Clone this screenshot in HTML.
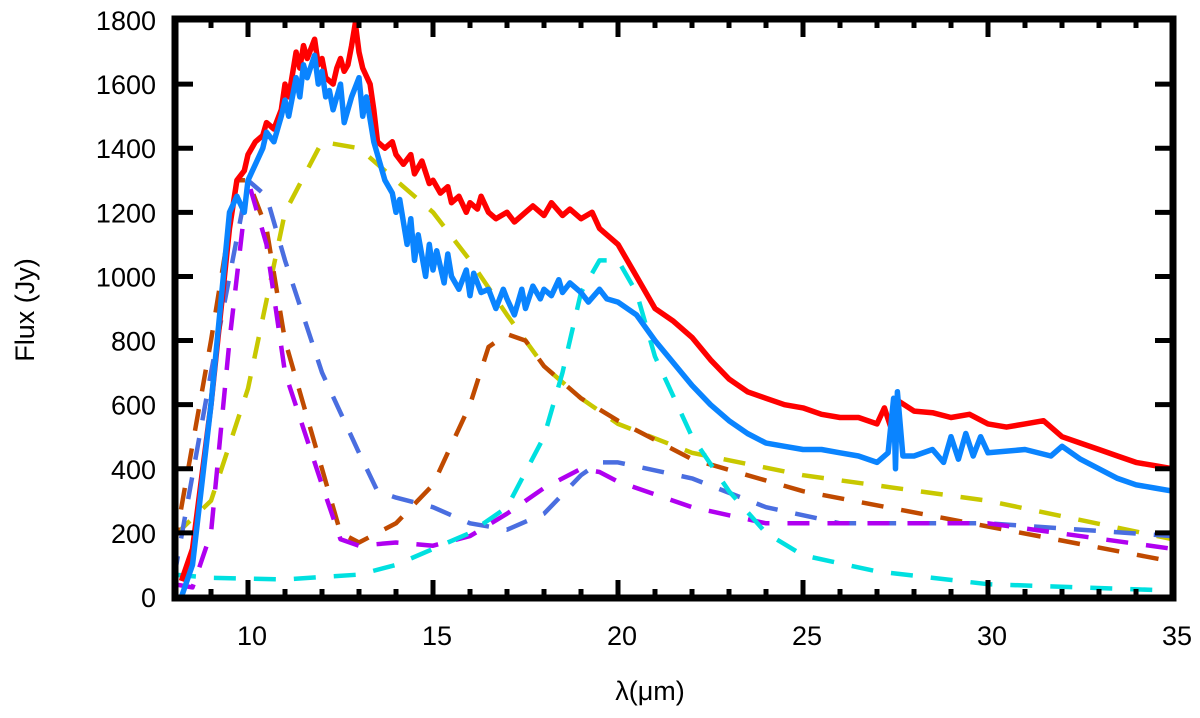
<!DOCTYPE html>
<html><head><meta charset="utf-8"><style>
body{margin:0;background:#fff}
svg{display:block;font-family:"Liberation Sans",sans-serif}
</style></head><body>
<svg id="chart" width="1200" height="718">
<g id="series"></g>
<g id="axes"></g>
<text x="650" y="700" font-size="27" text-anchor="middle">λ(μm)</text>
<text transform="translate(34,310) rotate(-90)" font-size="27" text-anchor="middle">Flux (Jy)</text>
</svg>
<script>
const xTicks=[10,15,20,25,30,35];
const yTicks=[0,200,400,600,800,1000,1200,1400,1600,1800];
const redX=[8.2,8.5,9,9.5,9.7,9.9,10,10.2,10.4,10.5,10.7,10.9,11,11.1,11.3,11.4,11.5,11.6,11.8,11.9,12,12.1,12.3,12.4,12.5,12.6,12.7,12.8,12.9,13,13.1,13.3,13.4,13.5,13.7,13.9,14,14.2,14.4,14.5,14.7,14.9,15,15.2,15.4,15.5,15.7,15.9,16,16.2,16.3,16.5,16.7,17,17.2,17.5,17.7,18,18.2,18.5,18.7,19,19.3,19.5,20,20.5,21,21.5,22,22.5,23,23.5,24,24.5,25,25.5,26,26.5,27,27.2,27.4,27.6,28,28.5,29,29.5,30,30.5,31,31.5,32,32.5,33,33.5,34,34.5,35];
const redY=[50,150,600,1150,1300,1330,1380,1420,1440,1480,1460,1520,1600,1560,1700,1650,1720,1680,1740,1660,1680,1620,1600,1650,1680,1640,1660,1720,1790,1700,1650,1600,1520,1420,1400,1420,1380,1350,1380,1320,1360,1290,1300,1260,1280,1230,1250,1200,1230,1210,1250,1200,1180,1200,1170,1200,1220,1190,1230,1190,1210,1180,1200,1150,1100,1000,900,860,810,740,680,640,620,600,590,570,560,560,540,590,520,610,580,575,560,570,540,530,540,550,500,480,460,440,420,410,400];
const blueX=[8.2,8.5,9,9.5,9.7,9.9,10,10.2,10.4,10.5,10.7,10.9,11,11.1,11.3,11.4,11.5,11.6,11.8,11.9,12,12.1,12.2,12.3,12.5,12.6,12.8,13,13.1,13.2,13.4,13.5,13.7,13.9,14,14.1,14.3,14.4,14.5,14.6,14.8,14.9,15,15.1,15.3,15.4,15.5,15.7,15.9,16,16.1,16.3,16.5,16.7,16.9,17,17.2,17.4,17.5,17.7,17.9,18,18.2,18.4,18.5,18.7,19,19.2,19.5,19.7,20,20.5,21,21.5,22,22.5,23,23.5,24,24.5,25,25.5,26,26.5,27,27.3,27.45,27.5,27.55,27.7,28,28.5,28.8,29,29.2,29.4,29.6,29.8,30,31,31.7,32,32.5,33,33.5,34,34.5,35];
const blueY=[0,100,600,1200,1250,1200,1300,1350,1400,1450,1420,1500,1550,1500,1620,1560,1660,1620,1690,1600,1640,1560,1580,1520,1600,1480,1560,1620,1500,1560,1420,1380,1300,1260,1200,1240,1100,1180,1050,1130,1000,1100,1020,1080,980,1070,1000,960,1020,940,1010,950,960,900,960,930,880,960,900,970,930,960,940,990,950,980,950,920,960,930,920,880,800,730,660,600,550,510,480,470,460,460,450,440,420,450,620,400,640,440,440,460,420,500,430,510,440,500,450,460,440,470,430,400,370,350,340,330,310];
const yelX=[8,9,10,11,12,13,14,15,16,17,18,19,20,22,25,30,35];
const yelY=[190,300,650,1200,1420,1400,1300,1200,1050,880,720,620,540,450,380,300,180];
const orgX=[8,9,9.7,10,10.5,11,12,12.5,13,14,15,16,16.5,17,17.5,18,19,20,22,25,30,35];
const orgY=[150,800,1300,1300,1150,800,400,200,170,230,350,600,780,820,800,720,620,550,430,330,220,110];
const royX=[8,9,10,10.5,11,12,13,13.5,14,15,16,17,18,19,19.5,20,22,24,26,30,35];
const royY=[60,700,1300,1250,1050,700,450,330,310,280,230,210,260,380,420,420,370,280,230,230,190];
const purX=[8,8.5,9,9.5,10,10.5,11,12,12.5,13,14,15,16,17,18,19,19.5,20,22,24,30,35];
const purY=[40,30,200,800,1300,1100,700,350,180,160,170,160,190,260,340,400,390,360,280,230,230,150];
const cyaX=[8,9,11,13,14,15,16,17,18,18.5,19,19.5,20,20.5,21,22,23,24,25,27,30,35];
const cyaY=[70,60,55,70,100,150,200,280,500,700,950,1050,1050,950,750,500,330,200,130,80,40,20];

const X0=174,XS=37,Y0=597,YS=577/1800;
const sx=v=>X0+(v-8)*XS, sy=v=>Y0-v*YS;
const NS="http://www.w3.org/2000/svg";
const sg=document.getElementById('series'), ag=document.getElementById('axes');
function mk(t,a,p){const e=document.createElementNS(NS,t);for(const k in a)e.setAttribute(k,a[k]);p.appendChild(e);return e;}
function line(xs,ys,color,name,dash){
 const d=xs.map((x,i)=>(i?'L':'M')+sx(x).toFixed(1)+' '+sy(ys[i]).toFixed(1)).join(' ');
 const p=mk('path',{d:d,fill:'none',stroke:color,'stroke-width':dash?4.5:5.5,'stroke-linejoin':'round'},sg);
 if(dash)p.setAttribute('stroke-dasharray','22 18');
 
 
}
line(yelX,yelY,'#c8c800','model-yellow-dashed',true);
line(orgX,orgY,'#c04a00','model-orange-dashed',true);
line(royX,royY,'#4a6ee0','model-royalblue-dashed',true);
line(purX,purY,'#b000f0','model-purple-dashed',true);
line(cyaX,cyaY,'#00e0e0','model-cyan-dashed',true);
line(redX,redY,'#ff0000','observed-red',false);
line(blueX,blueY,'#0a84ff','observed-blue',false);
const L=175,R=1173,T=19,B=598;
const fr=mk('rect',{x:L,y:T,width:R-L,height:B-T,fill:'none',stroke:'#000','stroke-width':7},ag);


for(let v=9;v<=34;v++){
 const x=sx(v), maj=v%5===0, len=maj?18:9;
 mk('line',{x1:x,y1:B,x2:x,y2:B-len,stroke:'#000','stroke-width':5},ag);
 mk('line',{x1:x,y1:T,x2:x,y2:T+len,stroke:'#000','stroke-width':5},ag);
}
xTicks.forEach(v=>{
 const t=mk('text',{x:sx(v)+4,y:645,'font-size':27,'text-anchor':'middle'},ag);
 t.textContent=v;
 
 
});
yTicks.forEach(v=>{
 const y=sy(v);
 if(v>0&&v<1800){
  mk('line',{x1:L,y1:y,x2:L+18,y2:y,stroke:'#000','stroke-width':5},ag);
  mk('line',{x1:R,y1:y,x2:R-18,y2:y,stroke:'#000','stroke-width':5},ag);
 }
 const t=mk('text',{x:156,y:y+10,'font-size':27,'text-anchor':'end'},ag);
 t.textContent=v;
 
 
});
</script>
</body></html>
